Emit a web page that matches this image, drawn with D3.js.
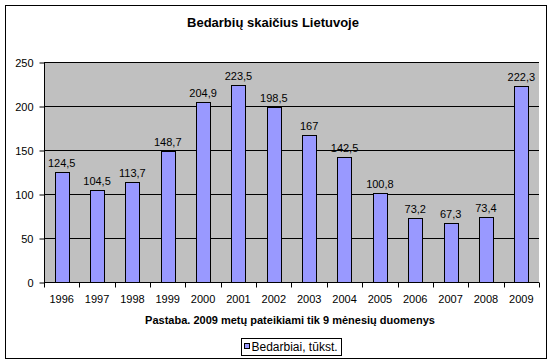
<!DOCTYPE html>
<html>
<head>
<meta charset="utf-8">
<script src="https://cdn.jsdelivr.net/npm/d3@7"></script>
<style>
  body { margin: 0; background: #fff; }
  svg { font-family: "Liberation Sans", Arial, sans-serif; }
</style>
</head>
<body>
<div id="vis"></div>
<script>
const FRAME_WIDTH = 552;
const FRAME_HEIGHT = 363;
const MARGINS = {left: 44, right: 13, top: 62, bottom: 81};

const VIS_WIDTH = FRAME_WIDTH - MARGINS.left - MARGINS.right;
const VIS_HEIGHT = FRAME_HEIGHT - MARGINS.top - MARGINS.bottom;

// data
const YEARS = ["1996", "1997", "1998", "1999", "2000", "2001", "2002",
               "2003", "2004", "2005", "2006", "2007", "2008", "2009"];
const VALUES = [124.5, 104.5, 113.7, 148.7, 204.9, 223.5, 198.5,
                167, 142.5, 100.8, 73.2, 67.3, 73.4, 222.3];
const Y_TICKS = [0, 50, 100, 150, 200, 250];

const TITLE = "Bedarbių skaičius Lietuvoje";
const NOTE = "Pastaba. 2009 metų pateikiami tik 9 mėnesių duomenys";
const SERIES_NAME = "Bedarbiai, tūkst.";

const X_SCALE = d3.scaleBand()
                  .domain(YEARS)
                  .range([0, VIS_WIDTH])
                  .paddingInner(0.6)
                  .paddingOuter(0.3);

const Y_SCALE = d3.scaleLinear()
                  .domain([0, 250])
                  .range([VIS_HEIGHT, 0]);

const SVG = d3.select("#vis")
              .append("svg")
                .attr("width", FRAME_WIDTH)
                .attr("height", FRAME_HEIGHT);

// outer border
SVG.append("rect")
    .attr("x", 5.5).attr("y", 5.5)
    .attr("width", 541).attr("height", 353)
    .attr("fill", "#fff").attr("stroke", "#000");

SVG.append("text")
    .attr("x", 273).attr("y", 27)
    .attr("text-anchor", "middle")
    .attr("font-size", "13px").attr("font-weight", "bold")
    .text(TITLE);

const PLOT = SVG.append("g")
    .attr("transform", "translate(" + MARGINS.left + "," + MARGINS.top + ")");

// plot background
PLOT.append("rect")
    .attr("width", VIS_WIDTH).attr("height", VIS_HEIGHT)
    .attr("fill", "#c0c0c0");

// gridlines
PLOT.selectAll(".grid")
    .data(Y_TICKS.slice(1))
    .enter()
    .append("line")
      .attr("x1", 0).attr("x2", VIS_WIDTH)
      .attr("y1", (d) => Math.round(Y_SCALE(d)) + 0.5)
      .attr("y2", (d) => Math.round(Y_SCALE(d)) + 0.5)
      .attr("stroke", "#000");

// bars
PLOT.selectAll(".bar")
    .data(VALUES)
    .enter()
    .append("rect")
      .attr("x", (d, i) => Math.round(X_SCALE(YEARS[i])) + 0.5)
      .attr("y", (d) => Math.round(Y_SCALE(d)) + 0.5)
      .attr("width", Math.round(X_SCALE.bandwidth()))
      .attr("height", (d) => Math.round(VIS_HEIGHT - Y_SCALE(d)))
      .attr("fill", "#9999ff")
      .attr("stroke", "#000");

// value labels
PLOT.selectAll(".label")
    .data(VALUES)
    .enter()
    .append("text")
      .attr("x", (d, i) => X_SCALE(YEARS[i]) + X_SCALE.bandwidth() / 2)
      .attr("y", (d) => Y_SCALE(d) - 5)
      .attr("text-anchor", "middle")
      .attr("font-size", "11px")
      .text((d) => String(d).replace(".", ","));

// y axis
const Y_AXIS = PLOT.append("g")
    .attr("transform", "translate(0.5,0.5)")
    .call(d3.axisLeft(Y_SCALE).tickValues(Y_TICKS).tickSize(5).tickPadding(6)
            .tickFormat(d3.format("d")));
Y_AXIS.selectAll("text").attr("font-size", "11px").attr("fill", "#000")
      .attr("font-family", "Liberation Sans, Arial, sans-serif");
Y_AXIS.selectAll("line, path").attr("stroke", "#000");
Y_AXIS.select("path").attr("d", "M0,0V" + VIS_HEIGHT);

// x axis
const STEP = X_SCALE.step();
const X_AXIS = PLOT.append("g")
    .attr("transform", "translate(0," + (VIS_HEIGHT + 0.5) + ")");
X_AXIS.append("line")
    .attr("x1", 0).attr("x2", VIS_WIDTH)
    .attr("stroke", "#000");
X_AXIS.selectAll(".tick")
    .data(d3.range(YEARS.length + 1))
    .enter()
    .append("line")
      .attr("x1", (d) => Math.round(d * STEP) + 0.5)
      .attr("x2", (d) => Math.round(d * STEP) + 0.5)
      .attr("y1", 0).attr("y2", 5)
      .attr("stroke", "#000");
X_AXIS.selectAll(".xlabel")
    .data(YEARS)
    .enter()
    .append("text")
      .attr("x", (d) => X_SCALE(d) + X_SCALE.bandwidth() / 2)
      .attr("y", 20)
      .attr("text-anchor", "middle")
      .attr("font-size", "11px")
      .text((d) => d);

// note
SVG.append("text")
    .attr("x", 290).attr("y", 324)
    .attr("text-anchor", "middle")
    .attr("font-size", "11px").attr("font-weight", "bold")
    .text(NOTE);

// legend
const LEGEND = SVG.append("g").attr("transform", "translate(241.5,338.5)");
LEGEND.append("rect")
    .attr("width", 100).attr("height", 17)
    .attr("fill", "#fff").attr("stroke", "#000");
LEGEND.append("rect")
    .attr("x", 3).attr("y", 5).attr("width", 5).attr("height", 5)
    .attr("fill", "#9999ff").attr("stroke", "#000");
LEGEND.append("text")
    .attr("x", 10).attr("y", 12.5)
    .attr("font-size", "12px")
    .text(SERIES_NAME);
</script>
</body>
</html>
